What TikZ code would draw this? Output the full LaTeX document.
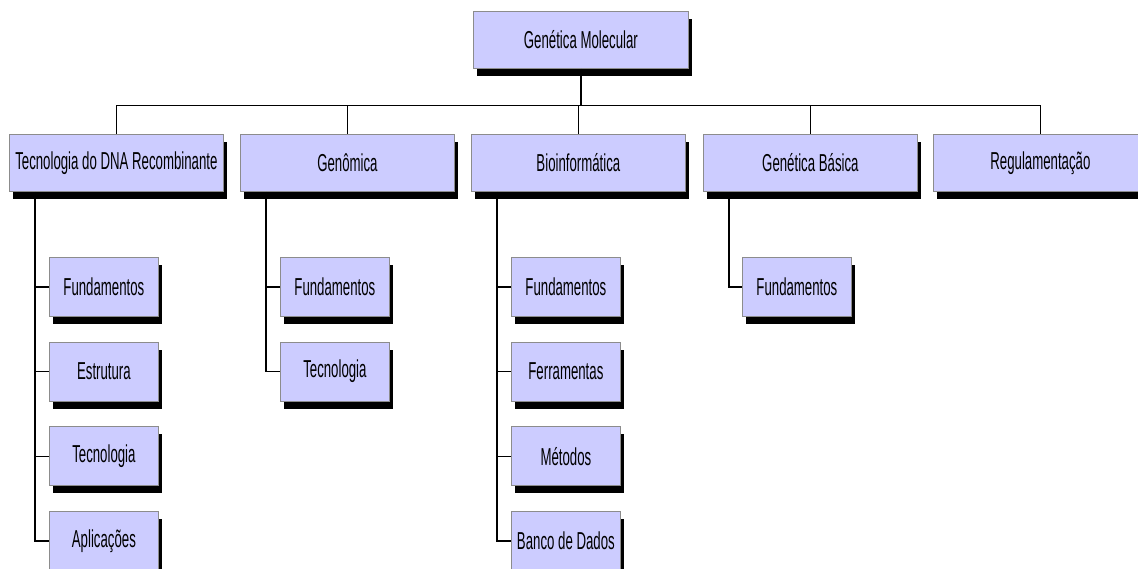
\documentclass[tikz,border=0pt]{standalone}
\usepackage{fontspec}
\setmainfont{Liberation Sans}[FakeStretch=0.54]
\usetikzlibrary{shadows}
\definecolor{boxfill}{HTML}{CCCCFF}
\definecolor{boxline}{HTML}{8C8C8C}
\begin{document}
\begin{tikzpicture}[x=1pt,y=-1pt,
  box/.style={draw=boxline, line width=0.8pt, fill=boxfill, inner sep=0pt, anchor=north west,
    font=\fontsize{24.5}{26}\selectfont,
    drop shadow={fill=black, opacity=1, shadow xshift=4pt, shadow yshift=-7.5pt}},
  bigbox/.style={box, minimum width=214pt, minimum height=57pt},
  smallbox/.style={box, minimum width=109pt, minimum height=59pt},
  conn/.style={line width=1.3pt, draw=black}]
\useasboundingbox (0,0) rectangle (1138,569);
\clip (0,0) rectangle (1138,569);
% root
\node[bigbox, minimum width=215pt] (root) at (473,11) {Genética Molecular};
% level 1
\node[bigbox] (t1) at (9,134) {Tecnologia do DNA Recombinante};
\node[bigbox] (t2) at (240,134) {Genômica};
\node[bigbox] (t3) at (471,134) {Bioinformática};
\node[bigbox] (t4) at (703,134) {Genética Básica};
\node[bigbox] (t5) at (933,134) {Regulamentação};
% column 1
\node[smallbox] (c11) at (49,257) {Fundamentos};
\node[smallbox] (c12) at (49,341.7) {Estrutura};
\node[smallbox] (c13) at (49,426.4) {Tecnologia};
\node[smallbox] (c14) at (49,511) {Aplicações};
% column 2
\node[smallbox] (c21) at (280,257) {Fundamentos};
\node[smallbox] (c22) at (280,341.7) {Tecnologia};
% column 3
\node[smallbox] (c31) at (511,257) {Fundamentos};
\node[smallbox] (c32) at (511,341.7) {Ferramentas};
\node[smallbox] (c33) at (511,426.4) {Métodos};
\node[smallbox] (c34) at (511,511) {Banco de Dados};
% column 4
\node[smallbox] (c41) at (742,257) {Fundamentos};
% connectors level 0 -> 1
\path (root.south) ++(0,37) coordinate (bus);
\draw[conn] (root.south) -- (bus);
\draw[conn] (t1.north) |- (bus) -| (t5.north);
\draw[conn] (t2.north) -- (t2.north |- bus);
\draw[conn] (t3.north) -- (t3.north |- bus);
\draw[conn] (t4.north) -- (t4.north |- bus);
% trunks
\path ([xshift=26pt]t1.south west) coordinate (k1);
\path ([xshift=26pt]t2.south west) coordinate (k2);
\path ([xshift=26pt]t3.south west) coordinate (k3);
\path ([xshift=26pt]t4.south west) coordinate (k4);
\draw[conn] (k1) |- (c14.west);
\draw[conn] (c11.west) -- (c11.west -| k1);
\draw[conn] (c12.west) -- (c12.west -| k1);
\draw[conn] (c13.west) -- (c13.west -| k1);
\draw[conn] (k2) |- (c22.west);
\draw[conn] (c21.west) -- (c21.west -| k2);
\draw[conn] (k3) |- (c34.west);
\draw[conn] (c31.west) -- (c31.west -| k3);
\draw[conn] (c32.west) -- (c32.west -| k3);
\draw[conn] (c33.west) -- (c33.west -| k3);
\draw[conn] (k4) |- (c41.west);
\end{tikzpicture}
\end{document}
